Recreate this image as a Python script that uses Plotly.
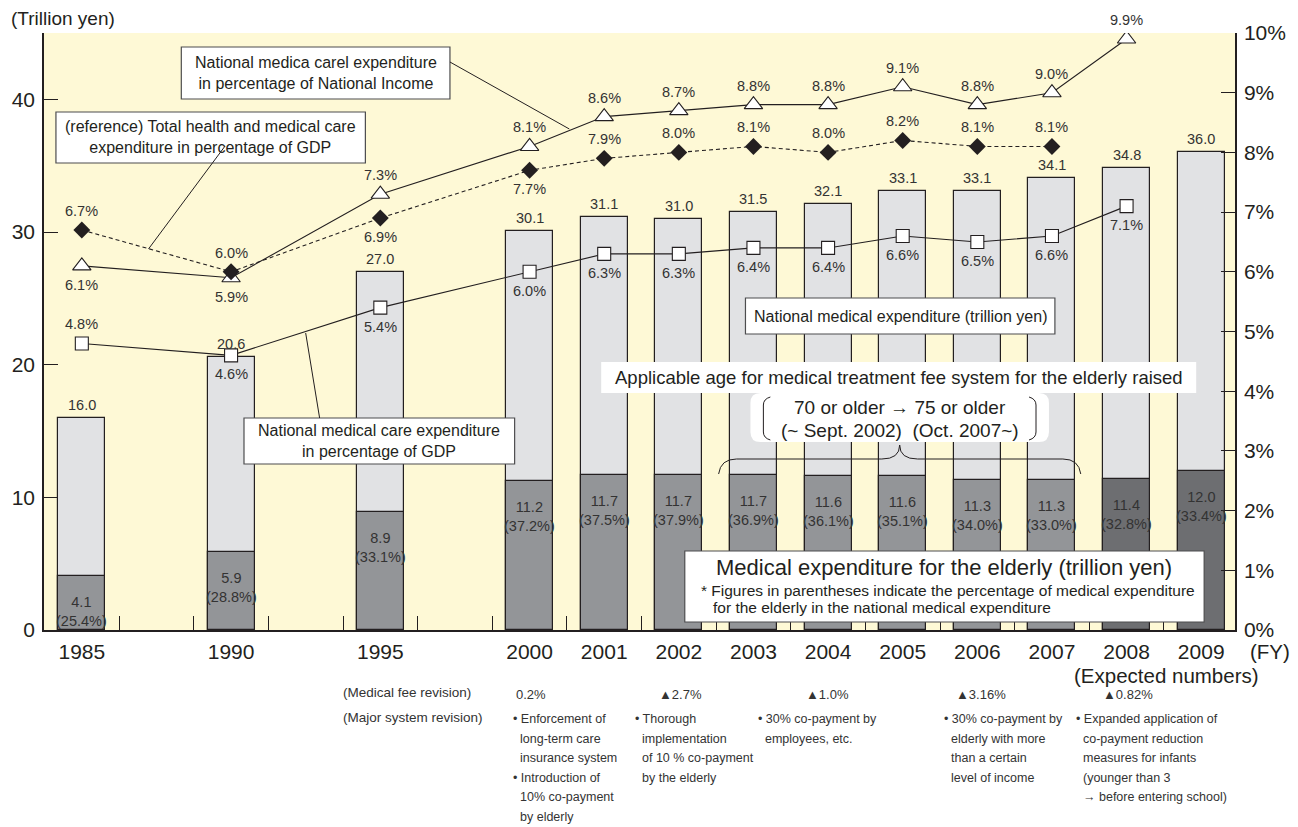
import plotly.graph_objects as go

# ---------------- data ----------------
years = ["1985", "1990", "1995", "2000", "2001", "2002", "2003", "2004", "2005", "2006", "2007", "2008", "2009"]
slots = [0, 2, 4, 6, 7, 8, 9, 10, 11, 12, 13, 14, 15]
total_exp = [16.0, 20.6, 27.0, 30.1, 31.1, 31.0, 31.5, 32.1, 33.1, 33.1, 34.1, 34.8, 36.0]
elderly_exp = [4.1, 5.9, 8.9, 11.2, 11.7, 11.7, 11.7, 11.6, 11.6, 11.3, 11.3, 11.4, 12.0]
elderly_share = [25.4, 28.8, 33.1, 37.2, 37.5, 37.9, 36.9, 36.1, 35.1, 34.0, 33.0, 32.8, 33.4]
pct_income = [6.1, 5.9, 7.3, 8.1, 8.6, 8.7, 8.8, 8.8, 9.1, 8.8, 9.0, 9.9]
pct_gdp = [4.8, 4.6, 5.4, 6.0, 6.3, 6.3, 6.4, 6.4, 6.6, 6.5, 6.6, 7.1]
pct_health_gdp = [6.7, 6.0, 6.9, 7.7, 7.9, 8.0, 8.1, 8.0, 8.2, 8.1, 8.1]
left_ticks = [0, 10, 20, 30, 40]
right_ticks = [0, 1, 2, 3, 4, 5, 6, 7, 8, 9, 10]

revision_rates = ["0.2%", "▲2.7%", "▲1.0%", "▲3.16%", "▲0.82%"]
revision_notes = [
    [["Enforcement of", "long-term care", "insurance system"], ["Introduction of", "10% co-payment", "by elderly"]],
    [["Thorough", "implementation", "of 10 % co-payment", "by the elderly"]],
    [["30% co-payment by", "employees, etc."]],
    [["30% co-payment by", "elderly with more", "than a certain", "level of income"]],
    [["Expanded application of", "co-payment reduction", "measures for infants", "(younger than 3", "→ before entering school)"]],
]

# ---------------- style ----------------
INK = "#231F20"
TXT = "#333333"
REG = "Liberation Sans, Arial, Helvetica, sans-serif"
BG = "#FEF9D6"
LIGHT = "#E1E2E4"
DARK = ["#939598"] * 11 + ["#6D6E71"] * 2
income_pos = ["below", "below"] + ["above"] * 10
gdp_pos = ["above"] + ["below"] * 11
health_pos = ["above", "above", "below", "below"] + ["above"] * 7

W, H = 1298, 827
L, R, T, B = 40, 1237, 33, 630


def px(x):
    return (x - L) / (R - L)


def py(y):
    return (B - y) / (B - T)


def path(points):
    out = []
    for cmd, coords in points:
        parts = []
        for i in range(0, len(coords), 2):
            parts.append(f"{px(coords[i]):.5f},{py(coords[i + 1]):.5f}")
        out.append(cmd + " " + " ".join(parts))
    return " ".join(out)


fig = go.Figure()

fig.add_trace(go.Bar(x=slots, y=total_exp, width=0.63, marker=dict(color=LIGHT, line=dict(color=INK, width=1.2)),
                     hoverinfo="skip", showlegend=False))
fig.add_trace(go.Bar(x=slots, y=elderly_exp, width=0.63, marker=dict(color=DARK, line=dict(color=INK, width=1.2)),
                     hoverinfo="skip", showlegend=False))

fig.add_trace(go.Scatter(x=slots[:len(pct_gdp)], y=pct_gdp, yaxis="y2", mode="lines+markers",
                         line=dict(color=INK, width=1.1),
                         marker=dict(symbol="square", size=13, color="white", line=dict(color=INK, width=1.1)),
                         showlegend=False, hoverinfo="skip"))
fig.add_trace(go.Scatter(x=slots[:len(pct_income)], y=pct_income, yaxis="y2", mode="lines+markers",
                         line=dict(color=INK, width=1.1),
                         marker=dict(symbol="triangle-up", size=16, color="white", line=dict(color=INK, width=1.1)),
                         showlegend=False, hoverinfo="skip"))
fig.add_trace(go.Scatter(x=slots[:len(pct_health_gdp)], y=pct_health_gdp, yaxis="y2", mode="lines+markers",
                         line=dict(color=INK, width=1.1, dash="4px,3px"),
                         marker=dict(symbol="diamond", size=13, color=INK, line=dict(color=INK, width=0)),
                         showlegend=False, hoverinfo="skip"))

ann = []
LBL = dict(family=REG, size=14.5, color=TXT)

for s, t, e, sh in zip(slots, total_exp, elderly_exp, elderly_share):
    ann.append(dict(x=s, y=t, xref="x", yref="y", text=f"{t:.1f}", showarrow=False, yanchor="bottom",
                    yshift=3, font=LBL))
    ann.append(dict(x=s, y=e, xref="x", yref="y", text=f"{e:.1f}<br>({sh:.1f}%)", showarrow=False,
                    yanchor="top", yshift=-16, font=LBL))

for series, pos in ((pct_income, income_pos), (pct_gdp, gdp_pos), (pct_health_gdp, health_pos)):
    for s, v, p in zip(slots, series, pos):
        ann.append(dict(x=s, y=v, xref="x", yref="y2", text=f"{v:.1f}%", showarrow=False,
                        yanchor="middle", yshift=19 if p == "above" else -19, font=LBL))

shapes = []


def box(x0, y0, x1, y1, border=True):
    shapes.append(dict(type="rect", xref="paper", yref="paper", x0=px(x0), x1=px(x1), y0=py(y1), y1=py(y0),
                       fillcolor="white",
                       line=dict(color="#4D4D4F" if border else "rgba(0,0,0,0)", width=1.2 if border else 0),
                       layer="above"))


def line(x0, y0, x1, y1):
    shapes.append(dict(type="line", xref="paper", yref="paper", x0=px(x0), x1=px(x1), y0=py(y0), y1=py(y1),
                       line=dict(color=INK, width=1), layer="above"))


def text(x, y, s, size, xanchor="center", yanchor="middle", align="center", color=INK):
    ann.append(dict(x=px(x), y=py(y), xref="paper", yref="paper", text=s, showarrow=False, xanchor=xanchor,
                    yanchor=yanchor, align=align, font=dict(family=REG, size=size, color=color)))


# callout boxes
box(178, 47, 448, 99)
line(448, 62, 568, 129)
text(313, 73, "National medica carel expenditure<br>in percentage of National Income", 16)

box(52, 112, 363, 163)
text(207.5, 137.5, "(reference) Total health and medical care<br>expenditure in percentage of GDP", 16)
line(222, 146, 145, 249)

box(241, 418, 513, 464)
text(377, 441, "National medical care expenditure<br>in percentage of GDP", 16)
line(317, 418, 303, 333)

box(745, 298, 1056, 334)
text(900.5, 316, "National medical expenditure (trillion yen)", 16)

box(600, 362, 1198, 393, border=False)
text(899, 377.5, "Applicable age for medical treatment fee system for the elderly raised", 18.5)

# rounded box with brackets
r = 10
x0, y0, x1, y1 = 750, 393, 1050, 442
shapes.append(dict(type="path", xref="paper", yref="paper", layer="above",
                   path=path([("M", [x0 + r, y0]), ("L", [x1 - r, y0]), ("Q", [x1, y0, x1, y0 + r]),
                              ("L", [x1, y1 - r]), ("Q", [x1, y1, x1 - r, y1]), ("L", [x0 + r, y1]),
                              ("Q", [x0, y1, x0, y1 - r]), ("L", [x0, y0 + r]), ("Q", [x0, y0, x0 + r, y0]),
                              ("Z", [])]),
                   fillcolor="white", line=dict(width=0, color="rgba(0,0,0,0)")))
shapes.append(dict(type="path", xref="paper", yref="paper", layer="above",
                   path=path([("M", [770, 397]), ("Q", [763, 399, 763, 405]), ("L", [763, 432]),
                              ("Q", [763, 438, 770, 440])]),
                   line=dict(color=INK, width=1)))
shapes.append(dict(type="path", xref="paper", yref="paper", layer="above",
                   path=path([("M", [1030, 397]), ("Q", [1037, 399, 1037, 405]), ("L", [1037, 432]),
                              ("Q", [1037, 438, 1030, 440])]),
                   line=dict(color=INK, width=1)))
text(900, 408, "70 or older → 75 or older", 19)
text(900, 430, "(~ Sept. 2002)  (Oct. 2007~)", 19)

# curly brace
shapes.append(dict(type="path", xref="paper", yref="paper", layer="above",
                   path=path([("M", [718, 474]), ("Q", [720, 459, 736, 459]), ("L", [882, 459]),
                              ("Q", [900, 459, 900, 445]), ("Q", [900, 459, 918, 459]), ("L", [1064, 459]),
                              ("Q", [1080, 459, 1082, 474])]),
                   line=dict(color=INK, width=1)))

# elderly box
box(684, 551, 1206, 622)
text(945, 567, "Medical expenditure for the elderly (trillion yen)", 22)
text(698, 590, "* Figures in parentheses indicate the percentage of medical expenditure", 15.5, xanchor="left")
text(710, 607, "for the elderly in the national medical expenditure", 15.5, xanchor="left")

# axis extras
text(5, 18, "(Trillion yen)", 19, xanchor="left")
text(1272, 651, "(FY)", 20.5)
text(1168, 675, "(Expected numbers)", 20.5)

# bottom notes
text(338, 693, "(Medical fee revision)", 13.5, xanchor="left", color=TXT)
text(338, 717, "(Major system revision)", 13.5, xanchor="left", color=TXT)
rate_x = [512, 656, 804, 955, 1102]
bullet_x = [509, 632, 756, 943, 1075]
for rx, rate in zip(rate_x, revision_rates):
    text(rx, 694, rate, 13, xanchor="left", color=TXT)
row0, gap = 719, 19.5
for bx, notes in zip(bullet_x, revision_notes):
    row = 0
    for note in notes:
        for k, ln in enumerate(note):
            if k == 0:
                text(bx, row0 + gap * row, "• " + ln, 12.5, xanchor="left", color=TXT)
            else:
                text(bx + 7, row0 + gap * row, ln, 12.5, xanchor="left", color=TXT)
            row += 1

fig.update_layout(
    width=W, height=H,
    margin=dict(l=L, r=W - R, t=T, b=H - B, pad=0),
    paper_bgcolor="white", plot_bgcolor=BG,
    barmode="overlay", bargap=0,
    showlegend=False,
    annotations=ann, shapes=shapes,
    xaxis=dict(range=[-0.507, 15.453], tickmode="array", tickvals=slots, ticktext=years, ticks="",
               showline=True, linecolor=INK, linewidth=1.5, showgrid=False, zeroline=False,
               tickfont=dict(family=REG, size=21, color=INK), ticklabelstandoff=2,
               minor=dict(tickmode="array", tickvals=[i + 0.5 for i in range(15)], ticks="inside",
                          ticklen=14, tickcolor=INK, tickwidth=1, showgrid=False)),
    yaxis=dict(range=[0, 45], tickmode="array", tickvals=left_ticks, ticks="inside", ticklen=14,
               tickcolor=INK, showline=True, linecolor=INK, linewidth=1.5, showgrid=False, zeroline=False,
               tickfont=dict(family=REG, size=21, color=INK), ticklabelstandoff=3),
    yaxis2=dict(range=[0, 10], overlaying="y", side="right", tickmode="array", tickvals=right_ticks,
                ticktext=[f"{v}%" for v in right_ticks], ticks="inside", ticklen=14, tickcolor=INK,
                showline=True, linecolor=INK, linewidth=1.5, showgrid=False, zeroline=False,
                tickfont=dict(family=REG, size=21, color=INK), ticklabelstandoff=3),
)

fig.write_html("out.html", config={"displayModeBar": False},
               post_script="document.body.style.margin='0px';")
